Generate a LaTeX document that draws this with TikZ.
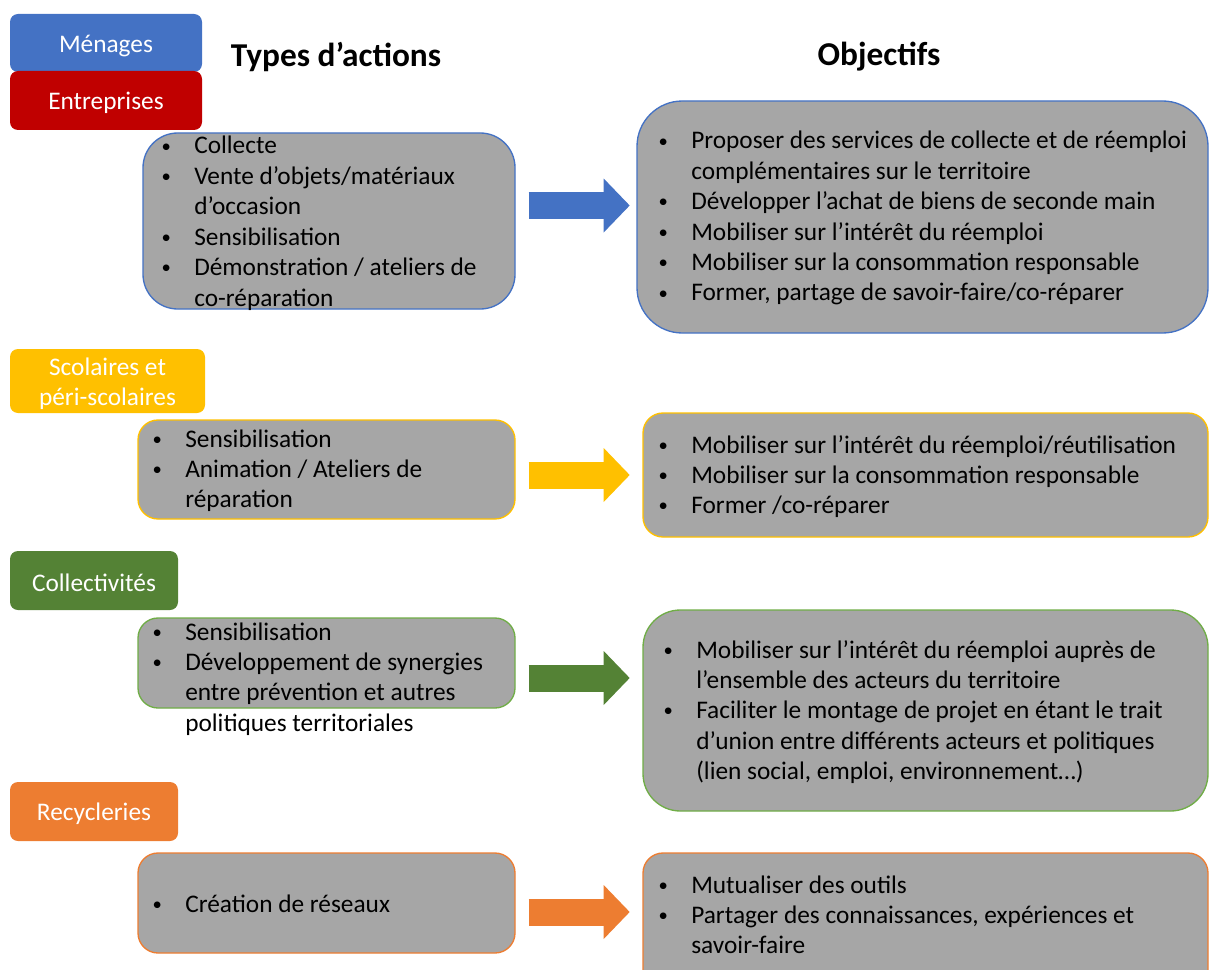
\documentclass[tikz,border=0pt]{standalone}
\usepackage{fontspec}
\setmainfont{Carlito}
\usetikzlibrary{arrows.meta,fit}
\definecolor{bleuM}{HTML}{4472C4}
\definecolor{rougeE}{HTML}{C00000}
\definecolor{jauneS}{HTML}{FFC000}
\definecolor{vertC}{HTML}{548235}
\definecolor{vertL}{HTML}{70AD47}
\definecolor{orangeR}{HTML}{ED7D31}
\definecolor{grisB}{HTML}{A6A6A6}
\newcommand{\puce}{\makebox[0pt][r]{\raisebox{1.5pt}{\fontsize{14}{14}\selectfont\textbullet}\hspace{17.5pt}}}
\newcommand{\corps}{\fontsize{19}{22.8}\selectfont}
\begin{document}
\begin{tikzpicture}[x=0.75pt,y=-0.75pt,
        entete/.style={fill=#1, inner sep=0, rounded corners=6pt},
        every label/.style={text=white, font=\corps, align=center, inner sep=0, yshift=-2pt},
        boite/.style={draw=#1, fill=grisB, line width=1pt, inner sep=0},
        texte/.style={inner sep=0, anchor=base west, font=\corps},
        titre/.style={font=\fontsize{25}{30}\selectfont\bfseries},
        fleche/.style={line width=20.25pt, -{Triangle[length=19.5pt,width=40.5pt,line width=0pt]}}]
    \useasboundingbox (0,0) rectangle (1209,970);

    \node[titre] (types) at (336,57) {Types d’actions};
    \node[titre] (objectifs) at (879,57) {Objectifs};

    % menages / entreprises
    \node[entete=bleuM, fit={(10,14) (202,72)}, label=center:Ménages] (menages) {};
    \node[entete=rougeE, fit={(10,71) (202,130)}, label=center:Entreprises] (entreprises) {};
    \node[boite=bleuM, rounded corners=26pt, fit={(143,133) (515,309)}] (act1) {};
    \node[texte] (tact1) at (194,154) {\begin{tabular}[t]{@{}l@{}}
        \puce Collecte\\ \puce Vente d’objets/matériaux\\ d’occasion\\
        \puce Sensibilisation\\ \puce Démonstration / ateliers de\\ co-réparation\end{tabular}};
    \node[boite=bleuM, rounded corners=34pt, fit={(637,101) (1208,333)}] (obj1) {};
    \node[texte] (tobj1) at (691,149) {\begin{tabular}[t]{@{}l@{}}
        \puce Proposer des services de collecte et de réemploi\\ complémentaires sur le territoire\\
        \puce Développer l’achat de biens de seconde main\\ \puce Mobiliser sur l’intérêt du réemploi\\
        \puce Mobiliser sur la consommation responsable\\ \puce Former, partage de savoir-faire/co-réparer\end{tabular}};
    \draw[fleche, bleuM] ([shift={(13,-15.5)}]act1.east) -- ++(101,0);

    % scolaires
    \node[entete=jauneS, fit={(10,349) (205,413)}, label={center:Scolaires et\\péri-scolaires}] (scolaires) {};
    \node[boite=jauneS, rounded corners=15pt, fit={(138,420) (515,519)}] (act2) {};
    \node[texte] (tact2) at (185,447) {\begin{tabular}[t]{@{}l@{}}
        \puce Sensibilisation\\ \puce Animation / Ateliers de\\ réparation\end{tabular}};
    \node[boite=jauneS, rounded corners=15pt, fit={(643,413) (1208,537)}] (obj2) {};
    \node[texte] (tobj2) at (691,453) {\begin{tabular}[t]{@{}l@{}}
        \puce Mobiliser sur l’intérêt du réemploi/réutilisation\\
        \puce Mobiliser sur la consommation responsable\\ \puce Former /co-réparer\end{tabular}};
    \draw[fleche, jauneS] ([shift={(13,5.5)}]act2.east) -- ++(101,0);

    % collectivites
    \node[entete=vertC, fit={(10,551) (178,610)}, label=center:Collectivités] (collectivites) {};
    \node[boite=vertL, rounded corners=15pt, fit={(138,618) (515,708)}] (act3) {};
    \node[texte] (tact3) at (185,640) {\begin{tabular}[t]{@{}l@{}}
        \puce Sensibilisation\\ \puce Développement de synergies\\ entre prévention et autres\\
        politiques territoriales\end{tabular}};
    \node[boite=vertL, rounded corners=28pt, fit={(643,610) (1208,811)}] (obj3) {};
    \node[texte] (tobj3) at (696,658) {\begin{tabular}[t]{@{}l@{}}
        \puce Mobiliser sur l’intérêt du réemploi auprès de\\ l’ensemble des acteurs du territoire\\
        \puce Faciliter le montage de projet en étant le trait\\ d’union entre différents acteurs et politiques\\
        (lien social, emploi, environnement…)\end{tabular}};
    \draw[fleche, vertC] ([shift={(13,15)}]act3.east) -- ++(101,0);

    % recycleries
    \node[entete=orangeR, fit={(10,782) (178,841)}, label=center:Recycleries] (recycleries) {};
    \node[boite=orangeR, rounded corners=15pt, fit={(138,853) (515,953)}] (act4) {};
    \node[texte] (tact4) at (185,912) {\begin{tabular}[t]{@{}l@{}}\puce Création de réseaux\end{tabular}};
    \node[boite=orangeR, rounded corners=15pt, fit={(643,853) (1208,990)}] (obj4) {};
    \node[texte] (tobj4) at (691,893) {\begin{tabular}[t]{@{}l@{}}
        \puce Mutualiser des outils\\ \puce Partager des connaissances, expériences et\\ savoir-faire\end{tabular}};
    \draw[fleche, orangeR] ([shift={(13,9)}]act4.east) -- ++(101,0);
\end{tikzpicture}
\end{document}
